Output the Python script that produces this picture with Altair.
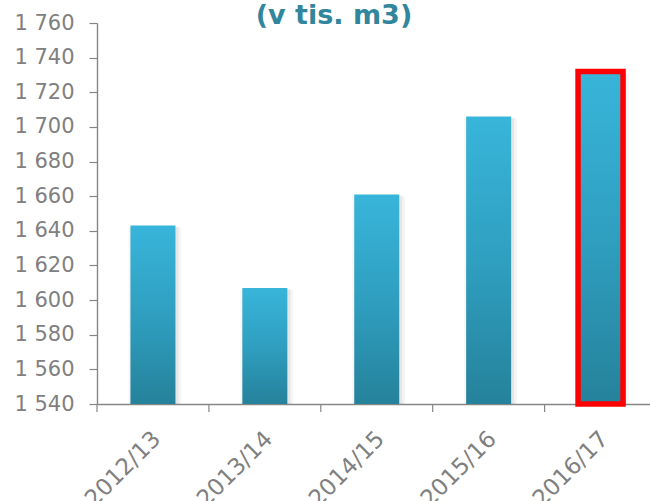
import altair as alt
import pandas as pd

# Seasons and harvested volume (thousand m3)
seasons = ["2012/13", "2013/14", "2014/15", "2015/16", "2016/17"]
volumes = [1643, 1607, 1661, 1706, 1732]
highlight = [False, False, False, False, True]
title_text = "(v tis. m3)"

y_ticks = list(range(1540, 1761, 20))

df = pd.DataFrame({"season": seasons, "volume": volumes, "highlight": highlight})

W, H = 553, 381
AXIS_GREY = "#868686"
LABEL_GREY = "#808080"
LABEL_FONT = "DejaVu Sans"
LABEL_SIZE = 21

x_scale = alt.Scale(domain=seasons, range=[0, 559.5], paddingInner=0, paddingOuter=0)
y_scale = alt.Scale(domain=[1540, 1760], nice=False, zero=False)

x_axis = alt.Axis(
    title=None,
    labelAngle=-45,
    labelAlign="right",
    labelBaseline="middle",
    ticks=False,
    labelPadding=31,
    labelOffset=4,
    labelFont=LABEL_FONT,
    labelFontSize=23,
    labelColor=LABEL_GREY,
    labelOverlap=False,
    domainColor=AXIS_GREY,
    domainWidth=1.4,
    grid=False,
)
x_enc = alt.X("season:N", scale=x_scale, sort=seasons, axis=x_axis)
y_enc = alt.Y(
    "volume:Q",
    scale=y_scale,
    axis=alt.Axis(
        title=None,
        values=y_ticks,
        labelExpr="replace(format(datum.value, ','), ',', ' ')",
        tickSize=8,
        tickColor=AXIS_GREY,
        tickWidth=1.2,
        domainColor=AXIS_GREY,
        domainWidth=1.4,
        labelFont=LABEL_FONT,
        labelFontSize=LABEL_SIZE,
        labelColor=LABEL_GREY,
        labelPadding=15,
        grid=False,
    ),
)

base = alt.Chart(df)

# soft drop shadow behind each column
shadow_wide = base.mark_bar(color="#000000", opacity=0.04, width=alt.RelativeBandSize(0.47), xOffset=2, yOffset=2).encode(
    x=x_enc, y=y_enc, y2=alt.datum(1540)
)
shadow_near = base.mark_bar(color="#000000", opacity=0.06, width=alt.RelativeBandSize(0.43), xOffset=1.5, yOffset=1).encode(
    x=x_enc, y=y_enc, y2=alt.datum(1540)
)

bars = base.mark_bar(
    width=alt.RelativeBandSize(0.402),
    color=alt.Gradient(
        gradient="linear",
        stops=[
            alt.GradientStop(color="#38B5DA", offset=0),
            alt.GradientStop(color="#2F9FC0", offset=0.5),
            alt.GradientStop(color="#25829B", offset=1),
        ],
        x1=0, x2=0, y1=0, y2=1,
    ),
).encode(x=x_enc, y=y_enc, y2=alt.datum(1540))

outline = base.transform_filter("datum.highlight").mark_bar(
    width=alt.RelativeBandSize(0.402),
    fillOpacity=0,
    stroke="#FF0000",
    strokeWidth=5.5,
).encode(x=x_enc, y=y_enc, y2=alt.datum(1540))

# category separators below the x axis
ticks = base.mark_rule(color=AXIS_GREY, strokeWidth=1.2).encode(
    x=alt.X("season:N", scale=x_scale, sort=seasons, bandPosition=0, axis=x_axis),
    y=alt.value(H),
    y2=alt.value(H + 8),
)

title = alt.Chart(pd.DataFrame({"t": [title_text]})).mark_text(
    font="DejaVu Sans",
    fontWeight="bold",
    fontSize=27,
    color="#31859C",
    align="center",
    baseline="alphabetic",
).encode(text="t:N", x=alt.value(237), y=alt.value(1))

chart = (
    alt.layer(shadow_wide, shadow_near, bars, outline, ticks, title)
    .properties(
        width=W,
        height=H,
        autosize=alt.AutoSizeParams(type="none"),
        padding={"left": 97, "top": 23, "right": 0, "bottom": 97},
        background="white",
    )
    .configure_view(stroke=None)
)

chart.save("out.html", embed_options={"renderer": "svg", "actions": False})
